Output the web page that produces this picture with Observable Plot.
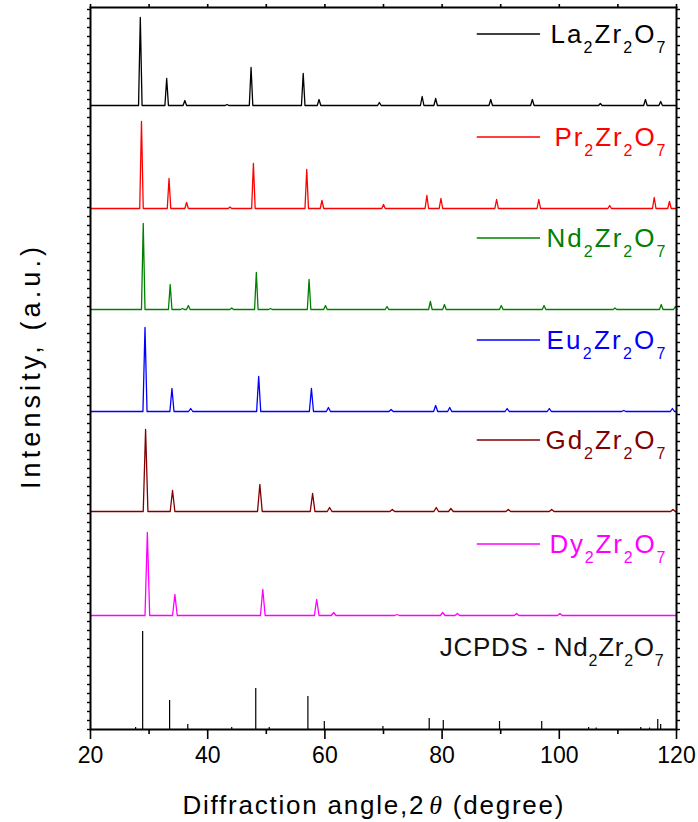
<!DOCTYPE html>
<html><head><meta charset="utf-8">
<script src="https://cdn.jsdelivr.net/npm/d3@7"></script>
<script src="https://cdn.jsdelivr.net/npm/@observablehq/plot@0.6"></script>
<style>
body{margin:0;background:#fff}
svg{font-family:"Liberation Sans",Arial,sans-serif}
</style>
</head><body><div id="chart"></div>
<script>
// ---- data (2θ in degrees, peak intensity in a.u.) ----
const seriesNames = ["La2Zr2O7","Pr2Zr2O7","Nd2Zr2O7","Eu2Zr2O7","Gd2Zr2O7","Dy2Zr2O7"];
const seriesLabelParts = [
  [["La",0],["2",1],["Zr",0],["2",1],["O",0],["7",1]],
  [["Pr",0],["2",1],["Zr",0],["2",1],["O",0],["7",1]],
  [["Nd",0],["2",1],["Zr",0],["2",1],["O",0],["7",1]],
  [["Eu",0],["2",1],["Zr",0],["2",1],["O",0],["7",1]],
  [["Gd",0],["2",1],["Zr",0],["2",1],["O",0],["7",1]],
  [["Dy",0],["2",1],["Zr",0],["2",1],["O",0],["7",1]]
];
const seriesColors = ["#000000","#ff0000","#008000","#0000ff","#800000","#ff00ff"];
const seriesOffsets = [624, 521, 420, 318, 218, 114];

const laPeaks = [[28.5,88],[33.0,27],[36.1,5],[43.3,1],[47.4,38],[56.3,32],[59.0,6],[69.3,3],[76.6,9],[78.9,7],[88.3,6],[95.4,6],[107.0,2],[114.7,6],[117.3,4]];
const prPeaks = [[28.7,87],[33.4,30],[36.4,6],[43.8,1.5],[47.8,45],[56.9,39],[59.5,8],[70.0,4],[77.4,13],[79.8,10],[89.3,9],[96.5,9],[108.6,3],[116.2,11],[118.8,7]];
const ndPeaks = [[29.0,86],[33.6,25],[35.7,1],[36.7,4],[44.1,1.5],[48.3,37],[50.7,1],[57.3,30],[60.1,4],[70.6,3],[78.0,8],[80.4,5],[90.1,4],[97.4,4],[109.5,1.5],[117.4,5],[119.8,3]];
const euPeaks = [[29.3,84],[33.9,23],[37.1,3],[48.7,35],[57.7,23],[60.6,4],[71.3,2],[78.9,6],[81.3,4],[91.1,3],[98.3,3],[111.0,1],[119.3,3]];
const gdPeaks = [[29.4,82],[34.0,21],[48.9,27],[57.9,18],[60.8,4],[71.5,2],[79.0,4],[81.5,3],[91.3,2],[98.7,2],[119.4,2]];
const dyPeaks = [[29.7,83],[34.4,21],[49.4,26],[58.6,16],[61.5,3],[72.3,1],[80.1,3],[82.6,2],[92.7,2],[100.1,2]];
const seriesPeaks = [laPeaks, prPeaks, ndPeaks, euPeaks, gdPeaks, dyPeaks];

const jcpdsSticks = [[27.7,2],[28.9,98],[33.5,29],[36.6,5],[44.1,2],[48.2,41],[50.5,2],[57.1,33],[59.9,8],[69.9,3],[77.8,11],[80.2,9],[89.8,8],[97.0,8],[105.0,2],[106.3,1.5],[113.9,2],[115.4,1.5],[116.8,10],[117.3,5]];
const jcpdsLabelParts = [["JCPDS - Nd",0],["2",1],["Zr",0],["2",1],["O",0],["7",1]];

const xMajorTicks = [20,40,60,80,100,120];
const xMinorTicks = [30,50,70,90,110];
const xLabel = ["Diffraction angle,2","θ"," (degree)"];
const yLabel = "Intensity, (a.u.)";

// ---- layout / style ----
const peakHalfWidths = [0.3,0.3,0.3,0.35,0.4,0.4];
const labelWidths = [115,111,119,119,120,116];

function profile(peaks, w, offset, name) {
  const pts = [{x:20, y:offset, s:name}];
  peaks.slice().sort((a,b)=>a[0]-b[0]).forEach(([p,h]) => {
    pts.push({x:p-w, y:offset, s:name}, {x:p, y:offset+h, s:name}, {x:p+w, y:offset, s:name});
  });
  pts.push({x:120, y:offset, s:name});
  return pts;
}
const lineMarks = seriesPeaks.map((pk,i) =>
  Plot.line(profile(pk, peakHalfWidths[i], seriesOffsets[i], seriesNames[i]),
    {x:"x", y:"y", stroke:seriesColors[i], strokeWidth:1.3})
);
const stickData = jcpdsSticks.map(([p,h]) => ({x:p, h}));

const plot = Plot.plot({
  width: 698, height: 822,
  marginLeft: 90, marginRight: 22, marginTop: 7, marginBottom: 93,
  style: {background:"#fff", fontFamily:"'Liberation Sans', Arial, sans-serif", color:"#000"},
  x: {domain:[20,120]},
  y: {domain:[0,722]},
  marks: [
    ...lineMarks,
    Plot.ruleX(stickData, {x:"x", y1:0, y2:"h", stroke:"#000", strokeWidth:1.2}),
    Plot.axisX({anchor:"bottom", ticks:xMajorTicks, tickSize:10, tickPadding:7, fontSize:23, strokeWidth:1.6, label:null}),
    Plot.axisX({anchor:"bottom", ticks:xMinorTicks, tickSize:5, tickFormat:()=>"", strokeWidth:1.6, label:null}),
    Plot.axisX({anchor:"top", ticks:d3.range(20,121,10), tickSize:4, tickFormat:()=>"", strokeWidth:1.6, label:null}),
    Plot.axisY({anchor:"left", ticks:d3.range(0,723,9), tickSize:3, tickFormat:()=>"", strokeWidth:1.4, label:null}),
    Plot.axisY({anchor:"right", ticks:d3.range(0,723,9), tickSize:3, tickFormat:()=>"", strokeWidth:1.4, label:null}),
    Plot.frame({stroke:"#000", strokeWidth:2})
  ]
});
document.getElementById("chart").appendChild(plot);

// ---- legend & titles ----
const sx = plot.scale("x"), sy = plot.scale("y");
const svg = d3.select(plot);
const g = svg.append("g");
function richText(parent, parts, xEnd, yBase, color, width) {
  const t = parent.append("text").attr("x", xEnd).attr("y", yBase)
    .attr("text-anchor","end").attr("fill", color)
    .attr("font-size", 26).attr("textLength", width).attr("lengthAdjust","spacing");
  let shifted = false;
  parts.forEach(([s,sub]) => {
    const ts = t.append("tspan").text(s);
    if (sub) { ts.attr("font-size", 16); if (!shifted) { ts.attr("dy", 10); shifted = true; } }
    else if (shifted) { ts.attr("dy", -10); shifted = false; }
  });
  return t;
}
seriesNames.forEach((n,i) => {
  const yv = sy.apply(seriesOffsets[i] + 71);
  g.append("line").attr("x1", sx.apply(86.0)).attr("x2", sx.apply(96.8))
    .attr("y1", yv).attr("y2", yv).attr("stroke", seriesColors[i]).attr("stroke-width", 1.5);
  richText(g, seriesLabelParts[i], sx.apply(118.2), yv + 9, seriesColors[i], labelWidths[i]);
});
richText(g, jcpdsLabelParts, sx.apply(117.9), sy.apply(73), "#111", 224);

const xt = svg.append("text").attr("x", 373).attr("y", 814).attr("text-anchor","middle")
  .attr("font-size", 26).attr("fill","#000").attr("textLength", 381).attr("lengthAdjust","spacing");
xt.append("tspan").text(xLabel[0]);
xt.append("tspan").attr("font-style","italic").attr("font-family","'Liberation Serif', serif").attr("dx", 4).text(xLabel[1]);
xt.append("tspan").text(xLabel[2]);

svg.append("text").attr("transform","translate(40,368) rotate(-90)").attr("text-anchor","middle")
  .attr("font-size", 27).attr("fill","#000").attr("textLength", 242).attr("lengthAdjust","spacing")
  .text(yLabel);
</script>
</body></html>
